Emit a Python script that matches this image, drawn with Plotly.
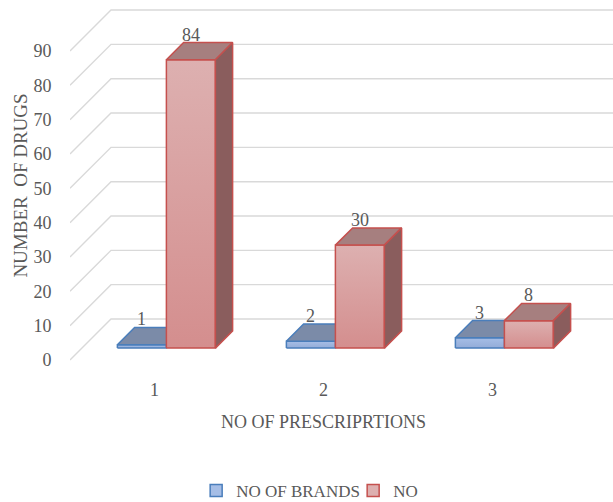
import plotly.graph_objects as go

# ---- data ----
categories = [1, 2, 3]
cat_labels = ["1", "2", "3"]
brands = [1, 2, 3]          # NO OF BRANDS
no_vals = [84, 30, 8]       # NO
y_ticks = list(range(0, 100, 10))
series_names = ["NO OF BRANDS", "NO"]

# ---- geometry (pseudo 3D projection in data units) ----
W, H = 613, 502
ML, MT, PW, PH = 70, 0, 543, 371
PX_CAT = 169.0
PX_UNIT = 3.433
XR = [0.5, 0.5 + PW / PX_CAT]
YR = [-(PH - 360) / PX_UNIT, 360 / PX_UNIT]
DX = 41 / PX_CAT       # full depth shift in x (category units)
DY = 41 / PX_UNIT      # full depth shift in y (value units)
D0, D1 = 0.29, 0.71    # bar front / back depth fraction
BW = 0.29              # bar width (category units)

TXT = "#595959"
FONT = "Liberation Serif, Times New Roman, serif"


def P(c, v, d):
    return c + d * DX, v + d * DY


fig = go.Figure()

# grid: left wall diagonals + back wall horizontals
gx, gy = [], []
for v in y_ticks:
    x0, y0 = P(0.5, v, 0)
    x1, y1 = P(0.5, v, 1)
    gx += [x0, x1, XR[1] + 0.2, None]
    gy += [y0, y1, y1, None]
fig.add_trace(go.Scatter(x=gx, y=gy, mode="lines",
                         line=dict(color="#d9d9d9", width=1.4),
                         hoverinfo="skip", showlegend=False))

styles = [
    dict(line="#4a7ebb", front=("#93acd8", "#a6bee6"), top="#7b8ba8", side="#5f7190"),
    dict(line="#c5504e", front=("#d48e8e", "#ddb0b0"), top="#a67f7f", side="#8a5d5d"),
]


def poly(pts, fillcol=None, grad=None, linecol="#000"):
    xs = [p[0] for p in pts] + [pts[0][0]]
    ys = [p[1] for p in pts] + [pts[0][1]]
    kw = dict(x=xs, y=ys, mode="lines", fill="toself",
              line=dict(color=linecol, width=1.5),
              hoverinfo="skip", showlegend=False)
    if grad:
        kw["fillgradient"] = dict(type="vertical",
                                  colorscale=[[0, grad[0]], [1, grad[1]]])
    else:
        kw["fillcolor"] = fillcol
    fig.add_trace(go.Scatter(**kw))


annotations = []
for i, k in enumerate(categories):
    for s, vals in enumerate([brands, no_vals]):
        v = vals[i]
        st = styles[s]
        xl = k - BW if s == 0 else k
        xr = xl + BW
        # front face
        poly([P(xl, 0, D0), P(xr, 0, D0), P(xr, v, D0), P(xl, v, D0)],
             grad=st["front"], linecol=st["line"])
        # top face
        poly([P(xl, v, D0), P(xr, v, D0), P(xr, v, D1), P(xl, v, D1)],
             fillcol=st["top"], linecol=st["line"])
        # right side face
        if s == 1:
            poly([P(xr, 0, D0), P(xr, 0, D1), P(xr, v, D1), P(xr, v, D0)],
                 fillcol=st["side"], linecol=st["line"])
        lx, _ = P((xl + xr) / 2, v, D0)
        _, ly = P(xl, v, D1)
        annotations.append(dict(x=lx, y=ly, xref="x", yref="y", text=str(v),
                                showarrow=False, yanchor="middle", yshift=8,
                                font=dict(family=FONT, size=18, color=TXT)))

# legend-only entries
for s, name in enumerate(series_names):
    st = styles[s]
    fig.add_trace(go.Bar(x=[None], y=[None], name=name,
                         marker=dict(color=st["front"][1],
                                     line=dict(color=st["line"], width=1.5))))

annotations.append(dict(x=2, y=-(422 - PH) / PH, xref="x", yref="paper",
                        text="NO OF PRESCRIPRTIONS", showarrow=False,
                        yanchor="middle",
                        font=dict(family=FONT, size=18, color=TXT)))

fig.update_layout(
    width=W, height=H,
    margin=dict(l=ML, r=W - ML - PW, t=MT, b=H - MT - PH),
    paper_bgcolor="white", plot_bgcolor="white",
    font=dict(family=FONT, size=17, color=TXT),
    showlegend=True,
    legend=dict(orientation="h", xref="container", yref="container",
                x=0.32, xanchor="left", y=(H - 491) / H, yanchor="middle",
                font=dict(family=FONT, size=17, color=TXT),
                entrywidth=112, traceorder="normal"),
    annotations=annotations,
    xaxis=dict(range=XR, showgrid=False, zeroline=False, showline=False,
               tickvals=categories, ticktext=cat_labels, ticks="outside",
               ticklen=2, tickcolor="rgba(0,0,0,0)",
               tickfont=dict(family=FONT, size=18, color=TXT), fixedrange=True),
    yaxis=dict(range=YR, showgrid=False, zeroline=False, showline=False,
               tickvals=y_ticks, ticks="outside", ticklen=14,
               tickcolor="rgba(0,0,0,0)",
               tickfont=dict(family=FONT, size=18, color=TXT),
               title=dict(text="NUMBER\u00a0 OF DRUGS", standoff=0,
                          font=dict(family=FONT, size=19, color=TXT)),
               fixedrange=True),
)

fig.write_html("out.html")
